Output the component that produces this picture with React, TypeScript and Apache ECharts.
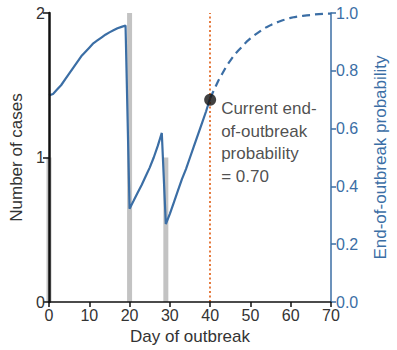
import React, { useEffect, useRef } from "react";
import * as echarts from "echarts";

const caseDays = [0, 20, 29];
const caseCounts = [1, 2, 1];

const probDaysSolid = [
  0, 1, 2, 3, 4, 5, 6, 7, 8, 9, 10, 11, 12, 13, 14, 15, 16, 17, 18, 19, 20,
  21, 22, 23, 24, 25, 26, 27, 28, 29, 30, 31, 32, 33, 34, 35, 36, 37, 38, 39, 40,
];
const probSolid = [
  0.715, 0.72, 0.735, 0.75, 0.77, 0.79, 0.81, 0.83, 0.85, 0.865, 0.88, 0.895,
  0.905, 0.915, 0.925, 0.933, 0.94, 0.947, 0.952, 0.957, 0.323, 0.35, 0.378,
  0.405, 0.435, 0.465, 0.5, 0.54, 0.585, 0.27, 0.305, 0.345, 0.385, 0.425,
  0.46, 0.5, 0.54, 0.58, 0.62, 0.66, 0.705,
];
const probDaysDashed = [
  40, 41, 42, 43, 44, 45, 46, 47, 48, 49, 50, 51, 52, 53, 54, 55, 56, 57, 58,
  59, 60, 61, 62, 63, 64, 65, 66, 67, 68, 69, 70,
];
const probDashed = [
  0.705, 0.735, 0.765, 0.79, 0.815, 0.835, 0.855, 0.87, 0.885, 0.9, 0.912,
  0.923, 0.933, 0.943, 0.951, 0.958, 0.964, 0.97, 0.975, 0.979, 0.983, 0.986,
  0.988, 0.99, 0.992, 0.993, 0.995, 0.996, 0.997, 0.998, 0.998,
];
const currentDay = 40;
const currentProb = 0.7;
const annotation = "Current end-\nof-outbreak\nprobability\n= 0.70";

const BLUE = "#3b6ea5";
const FONT = "Liberation Sans, Arial, sans-serif";

export default function App() {
  const ref = useRef<HTMLDivElement>(null);
  useEffect(() => {
    if (!ref.current) return;
    const chart = echarts.init(ref.current, undefined, { renderer: "svg" });
    chart.setOption({
      animation: false,
      textStyle: { fontFamily: FONT },
      grid: { left: 49, right: 62, top: 13, bottom: 48 },
      xAxis: {
        type: "value",
        min: 0,
        max: 70,
        interval: 10,
        name: "Day of outbreak",
        nameLocation: "middle",
        nameGap: 25,
        nameTextStyle: { fontSize: 17, color: "#333", fontFamily: FONT },
        axisLine: { show: true, lineStyle: { color: "#111", width: 1.5 } },
        axisTick: { show: true, length: 5, lineStyle: { color: "#111", width: 1.5 } },
        axisLabel: { fontSize: 16, color: "#333", margin: 5, fontFamily: FONT },
        splitLine: { show: false },
        z: 5,
      },
      yAxis: [
        {
          type: "value",
          min: 0,
          max: 2,
          interval: 1,
          name: "Number of cases",
          nameLocation: "middle",
          nameGap: 23,
          nameTextStyle: { fontSize: 17, color: "#333", fontFamily: FONT },
          axisLine: { show: true, lineStyle: { color: "#111", width: 2.5 } },
          axisTick: { show: true, length: 6, lineStyle: { color: "#111", width: 1.5 } },
          axisLabel: { fontSize: 16, color: "#333", margin: 4, fontFamily: FONT },
          splitLine: { show: false },
          z: 5,
        },
        {
          type: "value",
          min: 0,
          max: 1,
          interval: 0.2,
          position: "right",
          name: "End-of-outbreak probability",
          nameLocation: "middle",
          nameGap: 41,
          nameTextStyle: { fontSize: 17, color: BLUE, fontFamily: FONT },
          axisLine: { show: true, lineStyle: { color: BLUE, width: 1.5 } },
          axisTick: { show: true, length: 5, lineStyle: { color: BLUE, width: 1.5 } },
          axisLabel: {
            fontSize: 16,
            color: BLUE,
            margin: 5,
            fontFamily: FONT,
            formatter: (v: number) => v.toFixed(1),
          },
          splitLine: { show: false },
          z: 5,
        },
      ],
      series: [
        {
          type: "bar",
          yAxisIndex: 0,
          barWidth: 5,
          itemStyle: { color: "#c3c3c3" },
          data: caseDays.map((d, i) => [d, caseCounts[i]]),
          z: 1,
        },
        {
          type: "line",
          yAxisIndex: 1,
          showSymbol: false,
          symbol: "none",
          lineStyle: { color: BLUE, width: 2.2 },
          data: probDaysSolid.map((d, i) => [d, probSolid[i]]),
          markLine: {
            silent: true,
            symbol: "none",
            label: { show: false },
            lineStyle: { color: "#e57b3f", type: [2, 2.5], width: 2 },
            data: [{ xAxis: currentDay }],
          },
          z: 3,
        },
        {
          type: "line",
          yAxisIndex: 1,
          showSymbol: false,
          symbol: "none",
          lineStyle: { color: BLUE, width: 2.2, type: [8, 5] },
          data: probDaysDashed.map((d, i) => [d, probDashed[i]]),
          z: 3,
        },
        {
          type: "scatter",
          yAxisIndex: 1,
          symbolSize: 12,
          itemStyle: { color: "#111" },
          data: [[currentDay, currentProb]],
          label: {
            show: true,
            position: [17, 4],
            formatter: annotation,
            fontSize: 17,
            lineHeight: 22.5,
            color: "#222",
            fontFamily: FONT,
          },
          z: 6,
        },
      ],
    });
    return () => chart.dispose();
  }, []);
  return (
    <div
      ref={ref}
      style={{ position: "absolute", left: 0, top: 0, width: 397, height: 350 }}
    />
  );
}
